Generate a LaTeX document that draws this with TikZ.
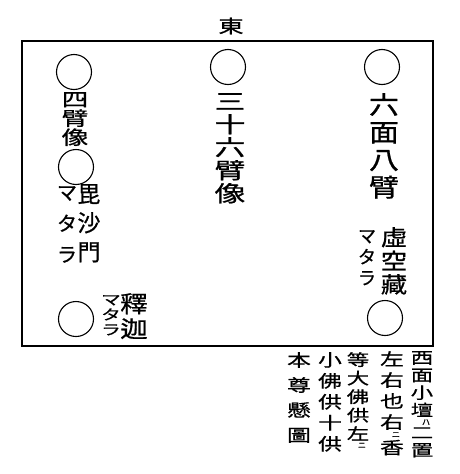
\documentclass[tikz,border=0pt]{standalone}
\usepackage{fontspec}
\newfontfamily\jp[FakeBold=0.8]{Noto Sans CJK JP}
\newfontfamily\jpmid[FakeStretch=1.2, FakeBold=0.8]{Noto Sans CJK JP}
\newfontfamily\jpwide[FakeStretch=1.4, FakeBold=0.8]{Noto Sans CJK JP}
\usetikzlibrary{positioning}

\newcommand{\fs}[2]{\fontsize{#1}{#2}\selectfont\lineskiplimit=-\maxdimen}

\begin{document}
\begin{tikzpicture}[x=1pt, y=-1pt, node distance=1pt,
    seat/.style={circle, draw, line width=1.1pt, minimum size=35pt, inner sep=0pt},
    vlab/.style={align=center, inner sep=0pt, anchor=north},
    kana/.style={inner sep=0pt, anchor=north, font=\jp\fs{8}{8}}]

    \useasboundingbox (0,0) rectangle (460,474);

    % Frame and heading
    \draw[line width=1.3pt] (22,41) rectangle (433,346);
    \node[inner sep=0pt, font=\jpwide\fs{18}{18}] (east) at (231,26) {東};

    % Seats
    \node[seat] (seatNW) at (74,72) {};
    \node[seat] (seatN) at (228,67) {};
    \node[seat] (seatNE) at (382,67) {};
    \node[seat] (seatW) at (76,167) {};
    \node[seat] (seatSW) at (76,319) {};
    \node[seat] (seatSE) at (385,318) {};

    % Labels of the seats
    \node[vlab, font=\jpwide\fs{19}{19}] (fourarm) at (75,92) {四\\臂\\像};
    \node[vlab, font=\jpwide\fs{22}{23}] (thirtysix) at (230,93) {三\\十\\六\\臂\\像};
    \node[vlab, font=\jpmid\fs{25}{27.5}] (sixface) at (384,93) {六\\面\\八\\臂};
    \node[vlab, font=\jp\fs{23}{29}] (bishamon) at (89,184) {毘\\沙\\門};
    \node[vlab, font=\jp\fs{20}{31}] (mataraW) at (67,186) {マ\\タ\\ラ};
    \node[vlab, font=\jpmid\fs{22}{23.5}] (kokuzo) at (394,227) {虛\\空\\藏};
    \node[vlab, font=\jp\fs{18}{21}] (mataraE) at (367,230) {マ\\タ\\ラ};
    \node[vlab, font=\jpmid\fs{23}{25}] (shaka) at (134,293) {釋\\迦};
    \node[vlab, font=\jpwide\fs{14}{15}] (mataraS) at (111,295) {マ\\タ\\ラ};

    % Note below the frame, read from right to left
    \node[vlab, font=\jpwide\fs{16}{17.5}] (noteA) at (422,351) {西\\面\\小\\壇};
    \node[kana, xshift=4pt, yshift=-2pt] (noteAk) at (noteA.south) {ハ};
    \node[vlab, font=\jpwide\fs{16}{17.5}, yshift=-2pt] (noteAb) at (noteA.south |- noteAk.south) {二\\置};
    \node[vlab, font=\jpwide\fs{17}{21}] (noteB) at (392,351) {左\\右\\也\\右};
    \node[kana, xshift=4pt, yshift=-2pt] (noteBk) at (noteB.south) {ニ};
    \node[vlab, font=\jpwide\fs{17}{21}, yshift=-2pt] (noteBb) at (noteB.south |- noteBk.south) {香};
    \node[vlab, font=\jpwide\fs{16}{18.5}] (noteC) at (358,352) {等\\大\\佛\\供\\左};
    \node[kana, xshift=4pt, yshift=-2pt] (noteCk) at (noteC.south) {ニ};
    \node[vlab, font=\jpwide\fs{17}{21}] (noteD) at (330,352) {小\\佛\\供\\十\\供};
    \node[vlab, font=\jpwide\fs{17}{25}] (noteE) at (299,352) {本\\尊\\懸\\圖};

\end{tikzpicture}
\end{document}
